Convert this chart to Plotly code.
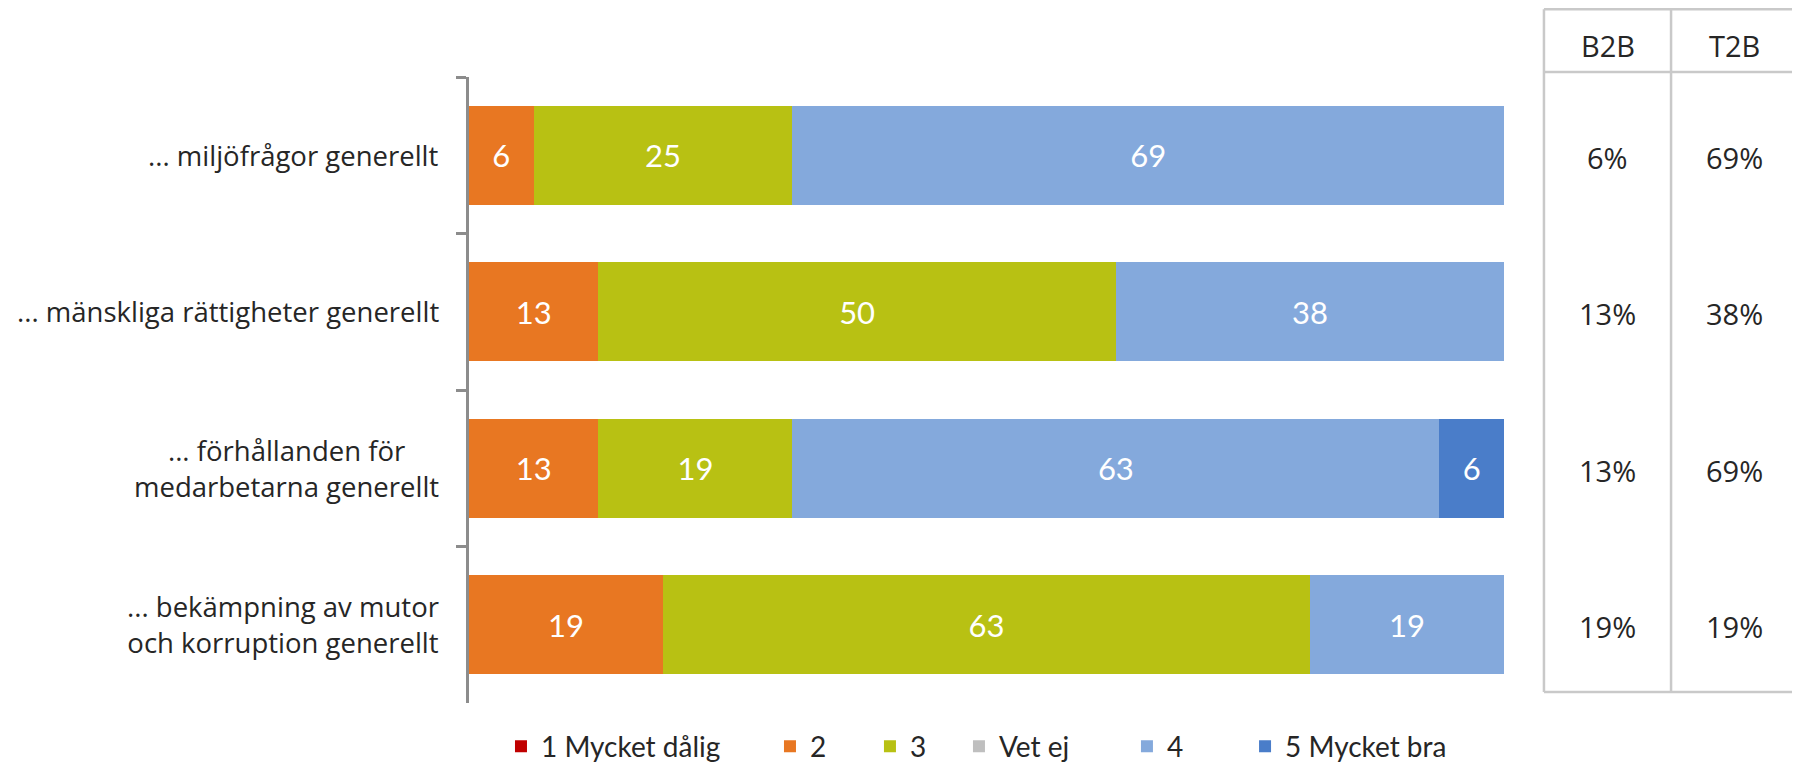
import plotly.graph_objects as go

categories = [
    "... miljöfrågor generellt",
    "... mänskliga rättigheter generellt",
    "... förhållanden för<br>medarbetarna generellt",
    "... bekämpning av mutor<br>och korruption generellt",
]
series_names = ["1 Mycket dålig", "2", "3", "Vet ej", "4", "5 Mycket bra"]
s1 = [0, 0, 0, 0]
s2 = [6.25, 12.5, 12.5, 18.75]
s3 = [25, 50, 18.75, 62.5]
s_vetej = [0, 0, 0, 0]
s4 = [68.75, 37.5, 62.5, 18.75]
s5 = [0, 0, 6.25, 0]
series_values = [s1, s2, s3, s_vetej, s4, s5]
series_colors = ["#C00000", "#E87722", "#B8C113", "#BFBFBF", "#84A9DC", "#4A7DC9"]

b2b = ["6%", "13%", "13%", "19%"]
t2b = ["69%", "38%", "69%", "19%"]
table_headers = ["B2B", "T2B"]

# legend box positions (paper x) for each series
legend_x = [0.0309, 0.2908, 0.3874, 0.4734, 0.6357, 0.7498]

fig = go.Figure()
legend_layout = {}
for i, (name, vals, col) in enumerate(zip(series_names, series_values, series_colors)):
    labels = [str(int(v + 0.5)) if v > 0 else "" for v in vals]
    lname = "legend" if i == 0 else f"legend{i + 1}"
    fig.add_trace(go.Bar(
        y=categories, x=vals, name=name, orientation="h",
        marker=dict(color=col, line=dict(width=0)),
        text=labels, textposition="inside", insidetextanchor="middle",
        textangle=0, textfont=dict(family="Lato", size=31, color="white"),
        hoverinfo="skip", legend=lname,
    ))
    legend_layout[lname] = dict(
        orientation="h", x=legend_x[i], xanchor="left", y=-0.0695, yanchor="middle",
        font=dict(family="Lato", size=28, color="#262626"),
        bgcolor="rgba(0,0,0,0)", itemclick=False,
    )

# category labels (centered multi-line, right-aligned block)
for c in categories:
    fig.add_annotation(
        x=0, xref="paper", y=c, yref="y", xanchor="right", yanchor="middle",
        xshift=-28, text=c, showarrow=False, align="center",
        font=dict(family="Open Sans", size=27.5, color="#262626"),
    )

# table
line_col = "#C9C9C9"
lw = 2.5
xl, xm, xr = 1.0386, 1.1614, 1.30
yt, yh, yb = 1.1082, 1.008, 0.0176
for (x0, x1, y0, y1) in [(xl, xr, yt, yt), (xl, xr, yh, yh), (xl, xr, yb, yb),
                         (xl, xl, yb, yt), (xm, xm, yb, yt)]:
    fig.add_shape(type="line", xref="paper", yref="paper", x0=x0, x1=x1, y0=y0, y1=y1,
                  line=dict(color=line_col, width=lw))
colx = [(xl + xm) / 2, (xm + 1.2841) / 2]
for hx, h in zip(colx, table_headers):
    fig.add_annotation(x=hx, xref="paper", y=1.0511, yref="paper", text=h,
                       xanchor="center", yanchor="middle",
                       showarrow=False, font=dict(family="Open Sans", size=29, color="#262626"))
for c, a, b in zip(categories, b2b, t2b):
    for cx, t in zip(colx, (a, b)):
        fig.add_annotation(x=cx, xref="paper", y=c, yref="y", text=t, yshift=-2,
                           xanchor="center", yanchor="middle",
                           showarrow=False, font=dict(family="Open Sans", size=29, color="#262626"))

fig.update_layout(
    barmode="stack", bargap=0.37,
    width=1784, height=800,
    margin=dict(l=461, r=288, t=69, b=105),
    plot_bgcolor="white", paper_bgcolor="white",
    showlegend=True,
    xaxis=dict(range=[0, 100], visible=False, fixedrange=True),
    yaxis=dict(autorange="reversed", showticklabels=False, showline=True,
               linecolor="#8C8C8C", linewidth=2.5, ticks="outside", tickson="boundaries",
               ticklen=10, tickcolor="#8C8C8C", tickwidth=2.5, showgrid=False,
               zeroline=False, fixedrange=True),
    **legend_layout,
)

fig.write_html("out.html")
